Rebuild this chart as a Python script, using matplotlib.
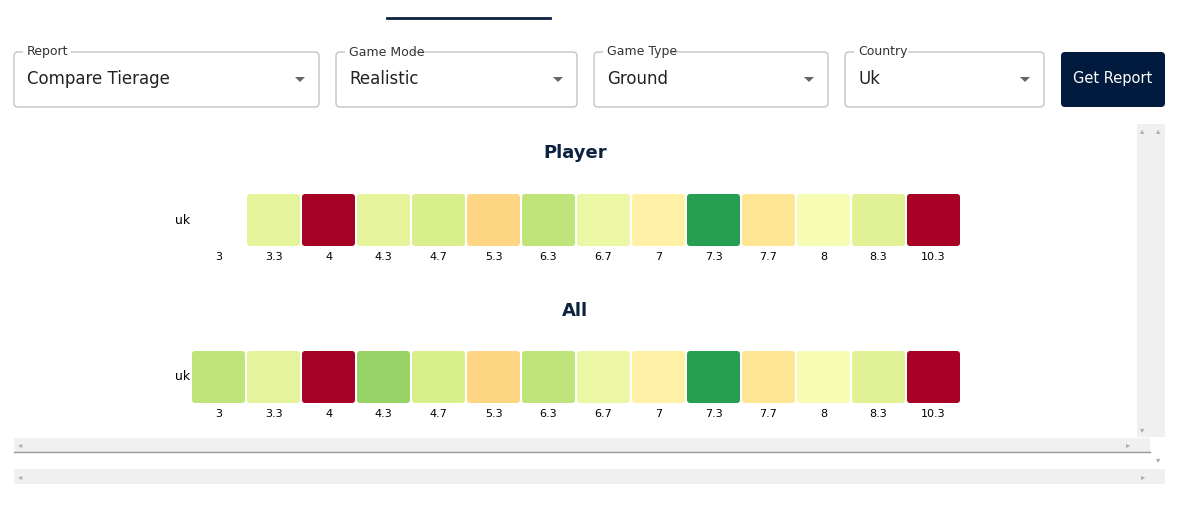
import numpy as np
import matplotlib.pyplot as plt
from matplotlib.patches import FancyBboxPatch, Rectangle, Polygon
from matplotlib import cm

tiers = ['3', '3.3', '4', '4.3', '4.7', '5.3', '6.3', '6.7', '7', '7.3', '7.7', '8', '8.3', '10.3']
player = [np.nan, .57, 0, .57, .6, .38, .65, .55, .45, .88, .42, .52, .58, 1]
all_vals = [.65, .57, 0, .72, .6, .38, .65, .55, .45, .88, .42, .52, .58, 1]
selects = [('Report', 'Compare Tierage', 14, 319), ('Game Mode', 'Realistic', 336, 577),
           ('Game Type', 'Ground', 594, 828), ('Country', 'Uk', 845, 1044)]

fig = plt.figure(figsize=(11.93, 5.22), dpi=100)
ax = fig.add_axes([0, 0, 1, 1])
ax.set_xlim(0, 1193)
ax.set_ylim(522, 0)
ax.axis('off')
cmap = cm.get_cmap('RdYlGn')
navy = '#0d2240'

# tab underline
ax.plot([387, 550], [18, 18], color=navy, lw=2)

# select boxes
for label, value, x0, x1 in selects:
    ax.add_patch(FancyBboxPatch((x0, 52), x1 - x0, 55, boxstyle='round,pad=0,rounding_size=4',
                                fc='white', ec='#c4c4c4', lw=1))
    ax.add_patch(Rectangle((x0 + 9, 47), len(label) * 6.6 + 8, 10, fc='white', ec='none'))
    ax.text(x0 + 13, 52, label, fontsize=9, color='#333333', va='center')
    ax.text(x0 + 13, 79, value, fontsize=12, color='#222222', va='center')
    ax.add_patch(Polygon([[x1 - 24, 77], [x1 - 14, 77], [x1 - 19, 82]], fc='#666666', ec='none'))

ax.add_patch(FancyBboxPatch((1061, 52), 104, 55, boxstyle='round,pad=0,rounding_size=4',
                            fc='#001b3d', ec='none'))
ax.text(1113, 79, 'Get Report', fontsize=10.5, color='white', ha='center', va='center')

# scrollbars
ax.add_patch(Rectangle((1137, 124), 28, 313, fc='#f0f0f0', ec='none'))
ax.add_patch(Rectangle((14, 438), 1136, 14, fc='#f0f0f0', ec='none'))
ax.plot([14, 1150], [452, 452], color='#999999', lw=1)
ax.add_patch(Rectangle((14, 469), 1151, 15, fc='#f0f0f0', ec='none'))
for x, y, t in [(20, 445, '◂'), (1128, 445, '▸'), (20, 477, '◂'), (1143, 477, '▸'),
                (1142, 131, '▴'), (1158, 131, '▴'), (1158, 460, '▾'), (1142, 430, '▾')]:
    ax.text(x, y, t, fontsize=6, color='#aaaaaa', ha='center', va='center')

# heatmaps
for title, vals, ty, top in [('Player', player, 153, 194), ('All', all_vals, 311, 351)]:
    ax.text(575, ty, title, fontsize=13, fontweight='bold', color=navy, ha='center', va='center')
    ax.text(183, top + 26, 'uk', fontsize=9, ha='center', va='center')
    for i, (t, v) in enumerate(zip(tiers, vals)):
        x0 = 191 + 55 * i
        if not np.isnan(v):
            ax.add_patch(FancyBboxPatch((x0 + 1, top), 53, 52,
                                        boxstyle='round,pad=0,rounding_size=3',
                                        fc=cmap(v), ec='none'))
        ax.text(x0 + 27.5, top + 63, t, fontsize=8, ha='center', va='center')

fig.savefig('out.png', dpi=100)
